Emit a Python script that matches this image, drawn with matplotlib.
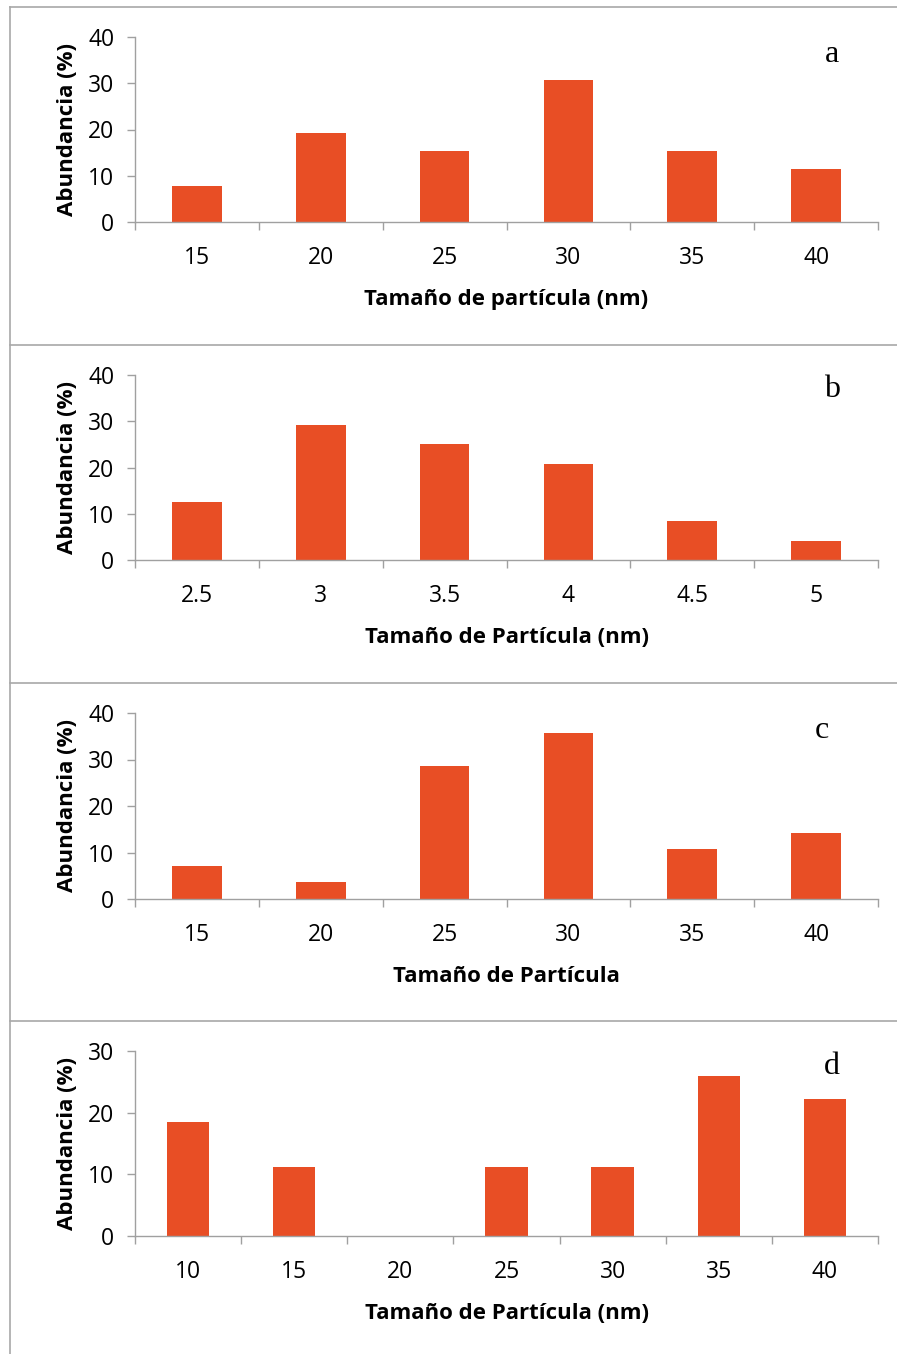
import matplotlib
matplotlib.use("Agg")
import matplotlib.pyplot as plt
from matplotlib.lines import Line2D

plt.rcParams['font.family'] = ['Open Sans', 'DejaVu Sans']

# Histogram data for the four samples
sizes_a = ["15", "20", "25", "30", "35", "40"]
abund_a = [7.69, 19.23, 15.38, 30.77, 15.38, 11.54]

sizes_b = ["2.5", "3", "3.5", "4", "4.5", "5"]
abund_b = [12.5, 29.17, 25.0, 20.83, 8.33, 4.17]

sizes_c = ["15", "20", "25", "30", "35", "40"]
abund_c = [7.14, 3.57, 28.57, 35.71, 10.71, 14.29]

sizes_d = ["10", "15", "20", "25", "30", "35", "40"]
abund_d = [18.52, 11.11, 0.0, 11.11, 11.11, 25.93, 22.22]

xlabels = ["Tamaño de partícula (nm)", "Tamaño de Partícula (nm)",
           "Tamaño de Partícula", "Tamaño de Partícula (nm)"]
letters = ["a", "b", "c", "d"]
ymax = [40, 40, 40, 30]

W, H = 897, 1354
BAR = "#E84E25"
AXC = "#A0A0A0"

fig = plt.figure(figsize=(W / 100, H / 100), dpi=100)

# panel frames (pixel coordinates, y from top)
for y in [7, 345, 683, 1021]:
    fig.add_artist(Line2D([10 / W, 1], [1 - y / H, 1 - y / H], color="#A8A8A8", lw=1.2))
fig.add_artist(Line2D([10 / W, 10 / W], [1 - 7 / H, 0], color="#A8A8A8", lw=1.2))

# axes boxes: (top px, bottom px), letter position (x px, y px)
boxes = [(37, 222), (375, 560), (713, 899), (1051, 1236)]
letter_pos = [(832, 55), (832, 390), (822, 730), (832, 1066)]
data = [(sizes_a, abund_a), (sizes_b, abund_b), (sizes_c, abund_c), (sizes_d, abund_d)]

for k, ((cats, vals), (top, bot)) in enumerate(zip(data, boxes)):
    ax = fig.add_axes([135 / W, 1 - bot / H, 743 / W, (bot - top) / H])
    n = len(cats)
    pos = list(range(n))
    ax.bar(pos, vals, width=0.4, color=BAR, zorder=2)
    ax.set_xlim(-0.5, n - 0.5)
    ax.set_ylim(0, ymax[k])
    ax.set_yticks(range(0, ymax[k] + 1, 10))
    ax.set_xticks([i - 0.5 for i in range(n + 1)])
    ax.set_xticklabels([])
    ax.set_xticks(pos, minor=True)
    ax.set_xticklabels(cats, minor=True)
    ax.tick_params(axis="x", which="major", direction="out", length=6, width=1, color=AXC)
    ax.tick_params(axis="x", which="minor", length=0, pad=17, labelsize=16.5)
    ax.tick_params(axis="y", direction="out", length=6, width=1, color=AXC, pad=9, labelsize=16.5)
    for s in ["top", "right"]:
        ax.spines[s].set_visible(False)
    for s in ["left", "bottom"]:
        ax.spines[s].set_color(AXC)
        ax.spines[s].set_linewidth(1)
    ax.set_ylabel("Abundancia (%)", fontsize=16, fontweight="bold", labelpad=7)
    ax.set_xlabel(xlabels[k], fontsize=16, fontweight="bold", labelpad=14)
    lx, ly = letter_pos[k]
    fig.text(lx / W, 1 - ly / H, letters[k], family="Liberation Serif", fontsize=23,
             ha="center", va="center")

fig.savefig("out.png", dpi=100)
